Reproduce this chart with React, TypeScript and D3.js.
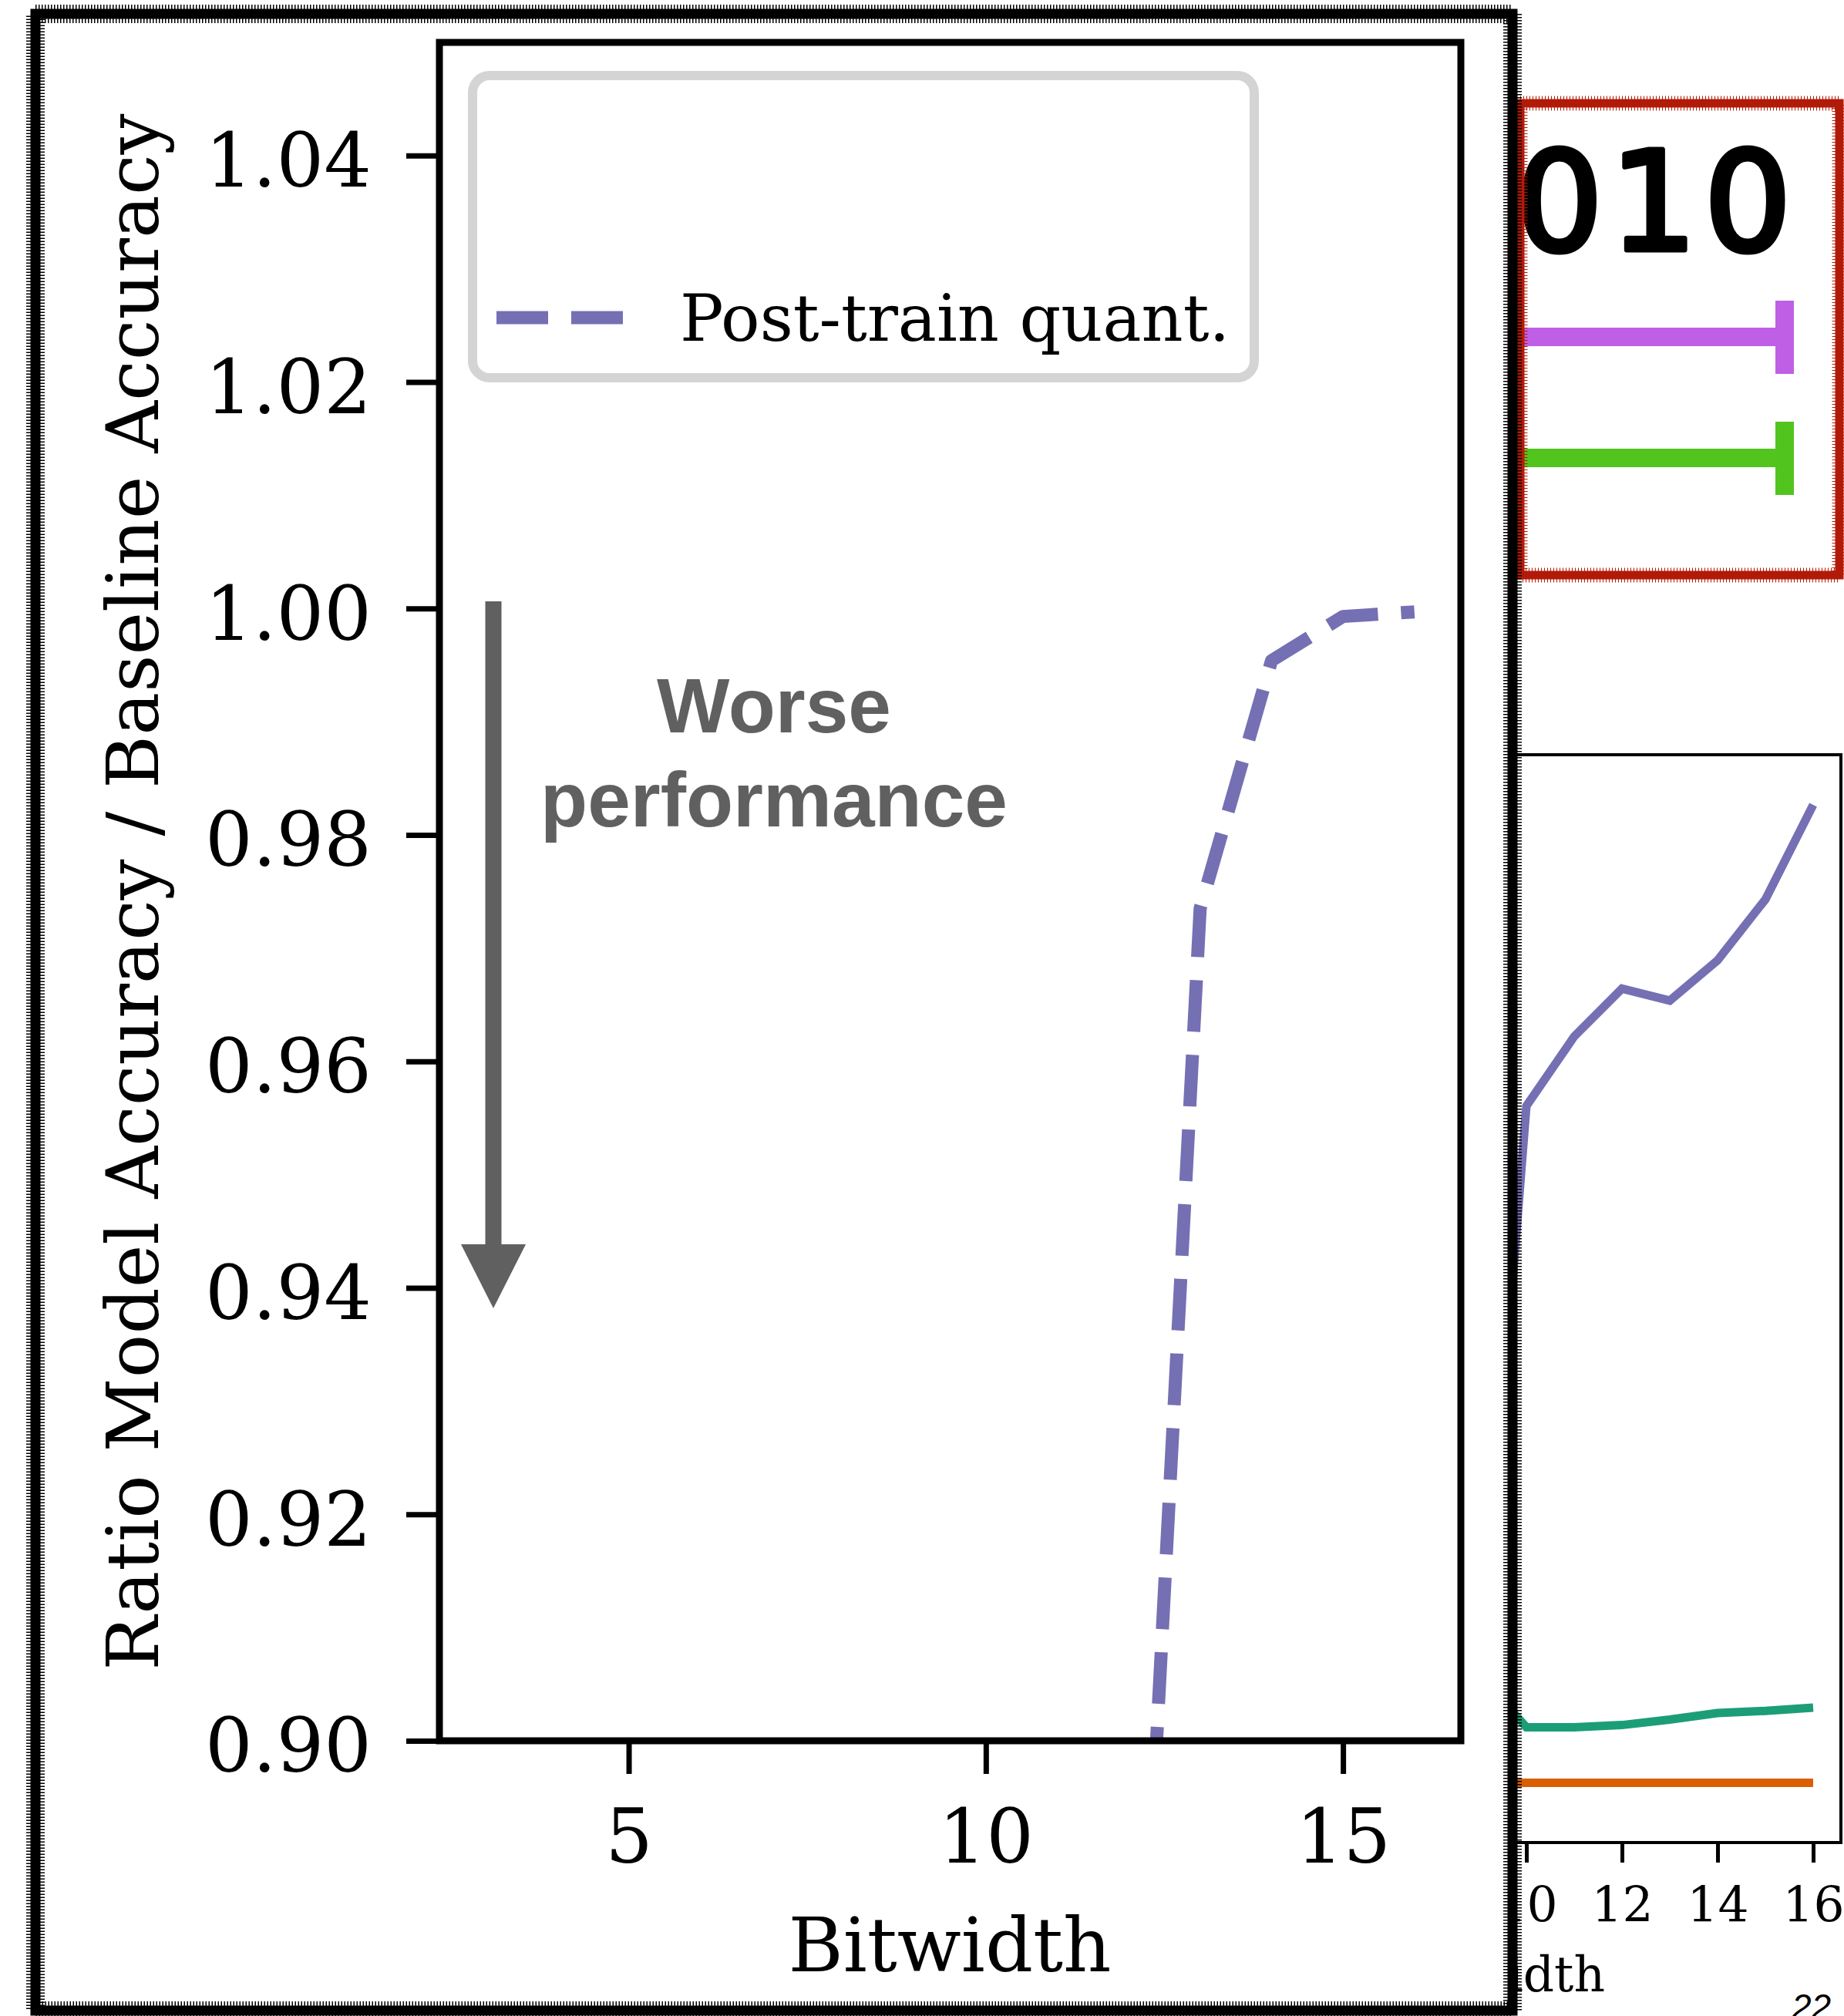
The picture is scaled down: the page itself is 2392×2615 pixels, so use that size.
import { useEffect, useRef } from "react";
import * as d3 from "d3";

// main panel: post-training quantisation ratio vs bitwidth
const bitwidths = [3, 4, 5, 6, 7, 8, 9, 10, 11, 12, 13, 14, 15, 16];
const postTrainRatio = [0.1, 0.1, 0.1, 0.1, 0.11, 0.13, 0.22, 0.45, 0.71, 0.853, 0.9735, 0.9954, 0.9993, 0.9997];
const yTicks = [0.9, 0.92, 0.94, 0.96, 0.98, 1.0, 1.02, 1.04];
const xTicks = [5, 10, 15];

// background chart peeking out on the right
const rightBits = [9, 10, 11, 12, 13, 14, 15, 16];
const rightPurple = [0.12, 0.677, 0.741, 0.785, 0.774, 0.811, 0.867, 0.954];
const rightGreen = [0.155, 0.106, 0.106, 0.108, 0.113, 0.119, 0.121, 0.124];
const rightOrange = [0.055, 0.055, 0.055, 0.055, 0.055, 0.055, 0.055, 0.055];
const rightTicks = [10, 12, 14, 16];

const W = 2392;
const H = 2615;
const SERIF = "'DejaVu Serif', serif";

export default function App() {
  const svgRef = useRef<SVGSVGElement>(null);

  useEffect(() => {
    const svg = d3.select(svgRef.current);
    svg.selectAll("*").remove();
    svg.append("rect").attr("width", W).attr("height", H).attr("fill", "#fff");

    const defs = svg.append("defs");
    defs.append("clipPath").attr("id", "plotClip")
      .append("rect").attr("x", 570).attr("y", 55).attr("width", 1325).attr("height", 2203);

    // ---------- right (background) chart ----------
    const xR = d3.scaleLinear().domain([10, 16]).range([1980, 2352]);
    const yR = d3.scaleLinear().domain([0, 1]).range([2390, 979]);
    const right = svg.append("g");
    const lineR = d3.line<number>().x((_, i) => xR(rightBits[i])).y(d => yR(d));
    const series: [number[], string][] = [
      [rightOrange, "#d95f02"],
      [rightGreen, "#1b9e77"],
      [rightPurple, "#7570b3"],
    ];
    series.forEach(([vals, col]) => {
      right.append("path").attr("d", lineR(vals)).attr("fill", "none")
        .attr("stroke", col).attr("stroke-width", 11);
    });
    right.append("rect").attr("x", 1900).attr("y", 979).attr("width", 488).attr("height", 1411)
      .attr("fill", "none").attr("stroke", "#000").attr("stroke-width", 4);
    const axR = right.append("g").attr("transform", "translate(0,2390)")
      .call(d3.axisBottom(xR).tickValues(rightTicks).tickFormat(d3.format("d")).tickSize(26).tickPadding(32));
    axR.select(".domain").remove();
    axR.selectAll("line").attr("stroke", "#000").attr("stroke-width", 5);
    axR.selectAll("text").attr("font-family", SERIF).attr("font-size", 63).attr("fill", "#000");
    right.append("text").attr("x", 2082).attr("y", 2583).attr("text-anchor", "end")
      .attr("font-family", SERIF).attr("font-size", 63).text("Bitwidth");
    right.append("text").attr("x", 2324).attr("y", 2619)
      .attr("font-family", "'Liberation Sans', Arial, sans-serif").attr("font-style", "italic")
      .attr("font-size", 46).text("22");

    // ---------- red highlight box ----------
    const red = svg.append("g");
    red.append("text").attr("x", 1966).attr("y", 324)
      .attr("font-family", "'DejaVu Sans', sans-serif")
      .attr("stroke", "#000").attr("stroke-width", 7).attr("stroke-linejoin", "round")
      .attr("letter-spacing", 9).attr("font-size", 178).text("010");
    const bars: [number, string][] = [[437, "#bf5fe5"], [594, "#52c41e"]];
    bars.forEach(([cy, col]) => {
      red.append("line").attr("x1", 1960).attr("x2", 2315).attr("y1", cy).attr("y2", cy)
        .attr("stroke", col).attr("stroke-width", 24);
      red.append("line").attr("x1", 2315).attr("x2", 2315).attr("y1", cy - 47).attr("y2", cy + 48)
        .attr("stroke", col).attr("stroke-width", 24);
    });
    const redBox = "M1972,134 L2386,134 L2386,746 L1972,746 Z";
    red.append("path").attr("d", redBox).attr("fill", "none").attr("stroke", "#b21a08").attr("stroke-width", 11);
    red.append("path").attr("d", redBox).attr("fill", "none").attr("stroke", "#b21a08")
      .attr("stroke-width", 19).attr("stroke-dasharray", "1 3");

    // ---------- left panel ----------
    svg.append("rect").attr("x", 0).attr("y", 0).attr("width", 1960).attr("height", H).attr("fill", "#fff");

    const x = d3.scaleLinear().domain([2.35, 16.65]).range([570, 1895]);
    const y = d3.scaleLinear().domain([0.9, 1.05]).range([2258, 55]);
    const g = svg.append("g");

    const ptLine = d3.line<number>().x((_, i) => x(bitwidths[i])).y(d => y(d));
    g.append("path").attr("clip-path", "url(#plotClip)").attr("d", ptLine(postTrainRatio))
      .attr("fill", "none").attr("stroke", "#7570b3").attr("stroke-width", 17)
      .attr("stroke-dasharray", "67 30").attr("stroke-linejoin", "round");

    const ay = g.append("g").attr("transform", "translate(570,0)")
      .call(d3.axisLeft(y).tickValues(yTicks).tickSize(43).tickPadding(45).tickFormat(d3.format(".2f")));
    ay.select(".domain").remove();
    ay.selectAll("line").attr("stroke", "#000").attr("stroke-width", 7);
    ay.selectAll("text").attr("font-family", SERIF).attr("font-size", 97).attr("fill", "#000").attr("dy", "0.41em");

    const ax = g.append("g").attr("transform", "translate(0,2258)")
      .call(d3.axisBottom(x).tickValues(xTicks).tickSize(43).tickPadding(46));
    ax.select(".domain").remove();
    ax.selectAll("line").attr("stroke", "#000").attr("stroke-width", 7);
    ax.selectAll("text").attr("font-family", SERIF).attr("font-size", 97).attr("fill", "#000");

    g.append("rect").attr("x", 570).attr("y", 55).attr("width", 1325).attr("height", 2203)
      .attr("fill", "none").attr("stroke", "#000").attr("stroke-width", 9);

    g.append("text").attr("x", 1232).attr("y", 2557).attr("text-anchor", "middle")
      .attr("font-family", SERIF).attr("font-size", 97).text("Bitwidth");
    g.append("text").attr("transform", "translate(205,1157) rotate(-90)").attr("text-anchor", "middle")
      .attr("font-family", SERIF).attr("font-size", 94).text("Ratio Model Accuracy / Baseline Accuracy");

    // legend
    g.append("rect").attr("x", 613).attr("y", 98).attr("width", 1014).attr("height", 392).attr("rx", 22)
      .attr("fill", "#fff").attr("stroke", "#d4d4d4").attr("stroke-width", 12);
    g.append("line").attr("x1", 644).attr("x2", 808).attr("y1", 412).attr("y2", 412)
      .attr("stroke", "#7570b3").attr("stroke-width", 17).attr("stroke-dasharray", "67 30");
    g.append("text").attr("x", 882).attr("y", 442).attr("font-family", SERIF).attr("font-size", 84)
      .text("Post-train quant.");

    // annotation arrow
    const grey = "#606060";
    g.append("line").attr("x1", 640).attr("x2", 640).attr("y1", 780).attr("y2", 1616)
      .attr("stroke", grey).attr("stroke-width", 21);
    g.append("path").attr("d", "M598,1614 L682,1614 L640,1697 Z").attr("fill", grey);
    const note = g.append("text").attr("text-anchor", "middle")
      .attr("font-family", "'Liberation Sans', Arial, sans-serif").attr("font-weight", "bold")
      .attr("font-size", 100).attr("fill", grey);
    note.append("tspan").attr("x", 1004).attr("y", 950).text("Worse");
    note.append("tspan").attr("x", 1004).attr("y", 1072).text("performance");

    // hand-drawn black frame
    const frame = "M46,18 L1962,18 L1962,2608 L46,2608 Z";
    svg.append("path").attr("d", frame).attr("fill", "none").attr("stroke", "#000").attr("stroke-width", 13);
    svg.append("path").attr("d", frame).attr("fill", "none").attr("stroke", "#000")
      .attr("stroke-width", 24).attr("stroke-dasharray", "1.5 2.5");
  }, []);

  return (
    <svg ref={svgRef} width={W} height={H}
      style={{ position: "absolute", left: 0, top: 0, display: "block" }} />
  );
}
